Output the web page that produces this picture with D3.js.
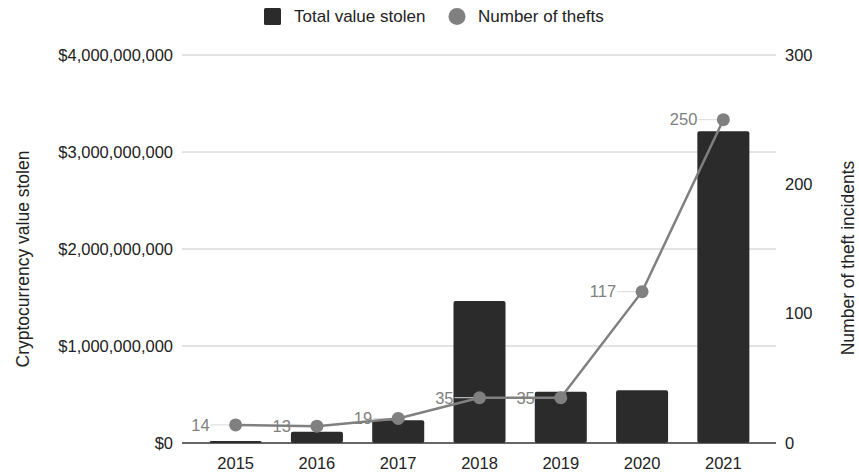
<!DOCTYPE html>
<html>
<head>
<meta charset="utf-8">
<script src="https://cdn.jsdelivr.net/npm/d3@7"></script>
<style>
  html, body { margin: 0; padding: 0; background: #fff; }
  svg { display: block; font-family: "Liberation Sans", Arial, sans-serif; }
</style>
</head>
<body>
<svg id="chart" width="859" height="473"></svg>
<script>
// Crypto theft by year: total value stolen (bars, left axis) and number of thefts (line, right axis)
const years = ["2015", "2016", "2017", "2018", "2019", "2020", "2021"];
const valueStolen = [20000000, 116000000, 234000000, 1464000000, 529000000, 543000000, 3213000000];
const theftCount = [14, 13, 19, 35, 35, 117, 250];
const leftTicks = [0, 1000000000, 2000000000, 3000000000, 4000000000];
const rightTicks = [0, 100, 200, 300];

const svg = d3.select("#chart");
const gridLeft = 182, gridRight = 776;
const plotTop = 55, plotBottom = 443;
const tickSize = 16.5, titleSize = 17.5, legendSize = 17, labelSize = 16.5;

const x = d3.scaleBand().domain(years).range([195, 764]).paddingInner(0.36).paddingOuter(0.18);
const yL = d3.scaleLinear().domain([0, 4000000000]).range([plotBottom, plotTop]);
const yR = d3.scaleLinear().domain([0, 300]).range([plotBottom, plotTop]);
const cx = d => x(d) + x.bandwidth() / 2;

// gridlines
svg.append("g").selectAll("line").data(leftTicks.slice(1)).join("line")
  .attr("x1", gridLeft).attr("x2", gridRight)
  .attr("y1", d => yL(d)).attr("y2", d => yL(d))
  .attr("stroke", "#c8c8c8").attr("stroke-width", 1);

// left axis labels
const fmt = d => "$" + d3.format(",")(d);
svg.append("g").selectAll("text").data(leftTicks).join("text")
  .attr("x", 173).attr("y", d => yL(d)).attr("dy", "0.35em")
  .attr("text-anchor", "end").attr("font-size", tickSize).attr("fill", "#222")
  .text(fmt);

// right axis labels
svg.append("g").selectAll("text").data(rightTicks).join("text")
  .attr("x", 785).attr("y", d => yR(d)).attr("dy", "0.35em")
  .attr("text-anchor", "start").attr("font-size", tickSize).attr("fill", "#222")
  .text(d => d);

// bars
svg.append("g").selectAll("rect").data(years).join("rect")
  .attr("x", d => x(d)).attr("width", x.bandwidth())
  .attr("y", (d, i) => yL(valueStolen[i]))
  .attr("height", (d, i) => plotBottom - yL(valueStolen[i]))
  .attr("rx", 2).attr("fill", "#2b2b2b");

// baseline
svg.append("line").attr("x1", gridLeft).attr("x2", gridRight)
  .attr("y1", plotBottom).attr("y2", plotBottom).attr("stroke", "#333").attr("stroke-width", 1.5);

// x labels
svg.append("g").selectAll("text").data(years).join("text")
  .attr("x", d => cx(d)).attr("y", 469)
  .attr("text-anchor", "middle").attr("font-size", tickSize).attr("fill", "#222")
  .text(d => d);

// data label leaders
const lbl = svg.append("g");
years.forEach((yr, i) => {
  const px = cx(yr), py = yR(theftCount[i]);
  lbl.append("line").attr("x1", px - 25).attr("x2", px).attr("y1", py).attr("y2", py)
    .attr("stroke", "#d9d9d9").attr("stroke-width", 1);
});

// line
const line = d3.line().x((d, i) => cx(years[i])).y(d => yR(d));
svg.append("path").datum(theftCount).attr("d", line)
  .attr("fill", "none").attr("stroke", "#808080").attr("stroke-width", 2.5);

svg.append("g").selectAll("circle").data(theftCount).join("circle")
  .attr("cx", (d, i) => cx(years[i])).attr("cy", d => yR(d)).attr("r", 6.5)
  .attr("fill", "#808080");

// data labels
years.forEach((yr, i) => {
  const px = cx(yr), py = yR(theftCount[i]);
  lbl.append("text").attr("x", px - 26).attr("y", py).attr("dy", "0.35em")
    .attr("text-anchor", "end").attr("font-size", labelSize).attr("fill", "#808080")
    .text(theftCount[i]);
});

// axis titles
svg.append("text").attr("transform", "translate(29,259) rotate(-90)")
  .attr("text-anchor", "middle").attr("font-size", titleSize).attr("fill", "#222")
  .text("Cryptocurrency value stolen");
svg.append("text").attr("transform", "translate(854,258) rotate(-90)")
  .attr("text-anchor", "middle").attr("font-size", titleSize).attr("fill", "#222")
  .text("Number of theft incidents");

// legend
const lg = svg.append("g");
lg.append("rect").attr("x", 264).attr("y", 8).attr("width", 17).attr("height", 17)
  .attr("rx", 1.5).attr("fill", "#2b2b2b");
lg.append("text").attr("x", 294).attr("y", 16.5).attr("dy", "0.35em")
  .attr("font-size", legendSize).attr("fill", "#222").text("Total value stolen");
lg.append("circle").attr("cx", 457).attr("cy", 16.5).attr("r", 8.5).attr("fill", "#808080");
lg.append("text").attr("x", 478).attr("y", 16.5).attr("dy", "0.35em")
  .attr("font-size", legendSize).attr("fill", "#222").text("Number of thefts");
</script>
</body>
</html>
